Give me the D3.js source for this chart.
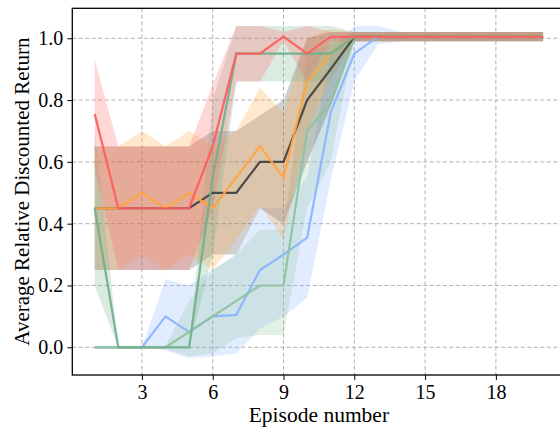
<!DOCTYPE html>
<html><head><meta charset="utf-8">
<script src="https://cdn.jsdelivr.net/npm/d3@7"></script>
<style>
html,body{margin:0;padding:0;background:#fff;}
svg{display:block;font-family:"Liberation Serif","DejaVu Serif",serif;}
</style></head>
<body><svg id="chart" width="560" height="430"></svg>
<script>
const episodes = [1,2,3,4,5,6,7,8,9,10,11,12,13,14,15,16,17,18,19,20];
const xTicks = [3,6,9,12,15,18];
const yTicks = [0.0,0.2,0.4,0.6,0.8,1.0];

const blueMean = [0,0,0,0.1,0.05,0.1,0.105,0.25,0.3,0.355,0.76,0.95,1.005,1.005,1.005,1.005,1.005,1.005,1.005,1.005];
const blueLo   = [0,0,0,-0.01,-0.035,-0.03,-0.02,0.06,0.1,0.16,0.54,0.86,0.98,0.99,0.99,0.99,0.99,0.99,0.99,0.99];
const blueHi   = [0,0,0,0.22,0.2,0.25,0.3,0.45,0.45,0.55,0.95,1.04,1.04,1.02,1.02,1.02,1.02,1.02,1.02,1.02];

const sageMean = [0,0,0,0,0.05,0.1,0.15,0.2,0.2,0.7,0.79,1.005,1.005,1.005,1.005,1.005,1.005,1.005,1.005,1.005];
const sageLo   = [-0.005,-0.005,-0.005,-0.005,-0.03,-0.02,0.03,0.04,0.04,0.45,0.6,0.99,0.99,0.99,0.99,0.99,0.99,0.99,0.99,0.99];
const sageHi   = [0.005,0.005,0.005,0.005,0.15,0.25,0.3,0.38,0.38,0.95,0.98,1.02,1.02,1.02,1.02,1.02,1.02,1.02,1.02,1.02];

const greyMean = [0.45,0.45,0.45,0.45,0.45,0.5,0.5,0.6,0.6,0.8,0.9,1.005,1.005,1.005,1.005,1.005,1.005,1.005,1.005,1.005];
const greyLo   = [0.25,0.25,0.25,0.25,0.25,0.3,0.3,0.45,0.4,0.6,0.78,0.99,0.99,0.99,0.99,0.99,0.99,0.99,0.99,0.99];
const greyHi   = [0.65,0.65,0.65,0.65,0.65,0.7,0.7,0.75,0.8,1.0,1.02,1.02,1.02,1.02,1.02,1.02,1.02,1.02,1.02,1.02];

const orangeMean = [0.45,0.45,0.5,0.45,0.5,0.45,0.55,0.65,0.55,0.86,0.95,1.005,1.005,1.005,1.005,1.005,1.005,1.005,1.005,1.005];
const orangeLo   = [0.25,0.25,0.3,0.25,0.3,0.25,0.35,0.46,0.35,0.7,0.88,0.99,0.99,0.99,0.99,0.99,0.99,0.99,0.99,0.99];
const orangeHi   = [0.65,0.65,0.7,0.65,0.7,0.65,0.7,0.84,0.76,1.0,1.03,1.02,1.02,1.02,1.02,1.02,1.02,1.02,1.02,1.02];

const greenMean = [0.45,0,0,0,0,0.55,0.95,0.95,0.95,0.95,0.95,1.005,1.005,1.005,1.005,1.005,1.005,1.005,1.005,1.005];
const greenLo   = [0.2,0,0,0,0,0.3,0.86,0.86,0.86,0.86,0.86,0.99,0.99,0.99,0.99,0.99,0.99,0.99,0.99,0.99];
const greenHi   = [0.7,0,0,0,0,0.8,1.04,1.04,1.04,1.04,1.04,1.02,1.02,1.02,1.02,1.02,1.02,1.02,1.02,1.02];

const redMean = [0.755,0.45,0.45,0.45,0.45,0.65,0.95,0.95,1.005,0.95,1.005,1.005,1.005,1.005,1.005,1.005,1.005,1.005,1.005,1.005];
const redLo   = [0.58,0.25,0.25,0.25,0.25,0.45,0.86,0.86,0.99,0.86,0.99,0.99,0.99,0.99,0.99,0.99,0.99,0.99,0.99,0.99];
const redHi   = [0.93,0.65,0.65,0.65,0.65,0.85,1.04,1.04,1.02,1.04,1.02,1.02,1.02,1.02,1.02,1.02,1.02,1.02,1.02,1.02];

const seriesNames = ["blue","sage","grey","orange","green","red"];
const seriesColors = ["#8ab4ff","#8fc29c","#444444","#ffa53d","#72b08d","#ff5e5e"];
const seriesMeans = [blueMean,sageMean,greyMean,orangeMean,greenMean,redMean];
const seriesLows = [blueLo,sageLo,greyLo,orangeLo,greenLo,redLo];
const seriesHighs = [blueHi,sageHi,greyHi,orangeHi,greenHi,redHi];

const svg = d3.select("#chart");
const mL = 72.3, mT = 8.3, mR = 565.5, mB = 375;
const x = d3.scaleLinear().domain([0.05, 20.95]).range([mL, mR]);
const y = d3.scaleLinear().domain([-0.0897, 1.097]).range([mB, mT]);

// grid
const grid = svg.append("g");
grid.selectAll(".gx").data(xTicks).join("line")
  .attr("x1", d=>x(d)).attr("x2", d=>x(d)).attr("y1", mT).attr("y2", mB)
  .attr("stroke", "#b0b0b0").attr("stroke-width", 1).attr("stroke-dasharray", "4,2.5");
grid.selectAll(".gy").data(yTicks).join("line")
  .attr("x1", mL).attr("x2", mR).attr("y1", d=>y(d)).attr("y2", d=>y(d))
  .attr("stroke", "#b0b0b0").attr("stroke-width", 1).attr("stroke-dasharray", "4,2.5");

const series = seriesNames.map((n,i)=>({name:n, color:seriesColors[i],
  pts: episodes.map((e,j)=>({x:e, m:seriesMeans[i][j], lo:seriesLows[i][j], hi:seriesHighs[i][j]}))}));

const area = d3.area().x(d=>x(d.x)).y0(d=>y(d.lo)).y1(d=>y(d.hi));
const line = d3.line().x(d=>x(d.x)).y(d=>y(d.m));

svg.append("g").selectAll("path").data(series).join("path")
  .attr("d", d=>area(d.pts)).attr("fill", d=>d.color).attr("fill-opacity", 0.25).attr("stroke","none");
svg.append("g").selectAll("path").data(series).join("path")
  .attr("d", d=>line(d.pts)).attr("fill","none").attr("stroke", d=>d.color)
  .attr("stroke-width", 2.2).attr("stroke-linejoin","miter").attr("stroke-opacity", 0.95);

// axes
const xAxis = d3.axisBottom(x).tickValues(xTicks).tickSize(5).tickPadding(5).tickFormat(d3.format("d"));
const yAxis = d3.axisLeft(y).tickValues(yTicks).tickSize(5).tickPadding(4).tickFormat(d3.format(".1f"));
const gx = svg.append("g").attr("transform", `translate(0,${mB})`).call(xAxis);
const gy = svg.append("g").attr("transform", `translate(${mL},0)`).call(yAxis);
[gx, gy].forEach(g=>{
  g.select(".domain").remove();
  g.selectAll(".tick line").attr("stroke","#000").attr("stroke-width",1);
  g.selectAll(".tick text").attr("fill","#000").style("font-size","20px").style("font-family","'Liberation Serif',serif");
});
// spines
svg.append("rect").attr("x", mL).attr("y", mT).attr("width", mR-mL).attr("height", mB-mT)
  .attr("fill","none").attr("stroke","#000").attr("stroke-width",1.3);

svg.append("text").attr("x", (mL+mR)/2).attr("y", 422).attr("text-anchor","middle")
  .style("font-size","21.5px").text("Episode number");
svg.append("text").attr("transform", `translate(29,${(mT+mB)/2}) rotate(-90)`).attr("text-anchor","middle")
  .style("font-size","21px").text("Average Relative Discounted Return");
</script></body></html>
